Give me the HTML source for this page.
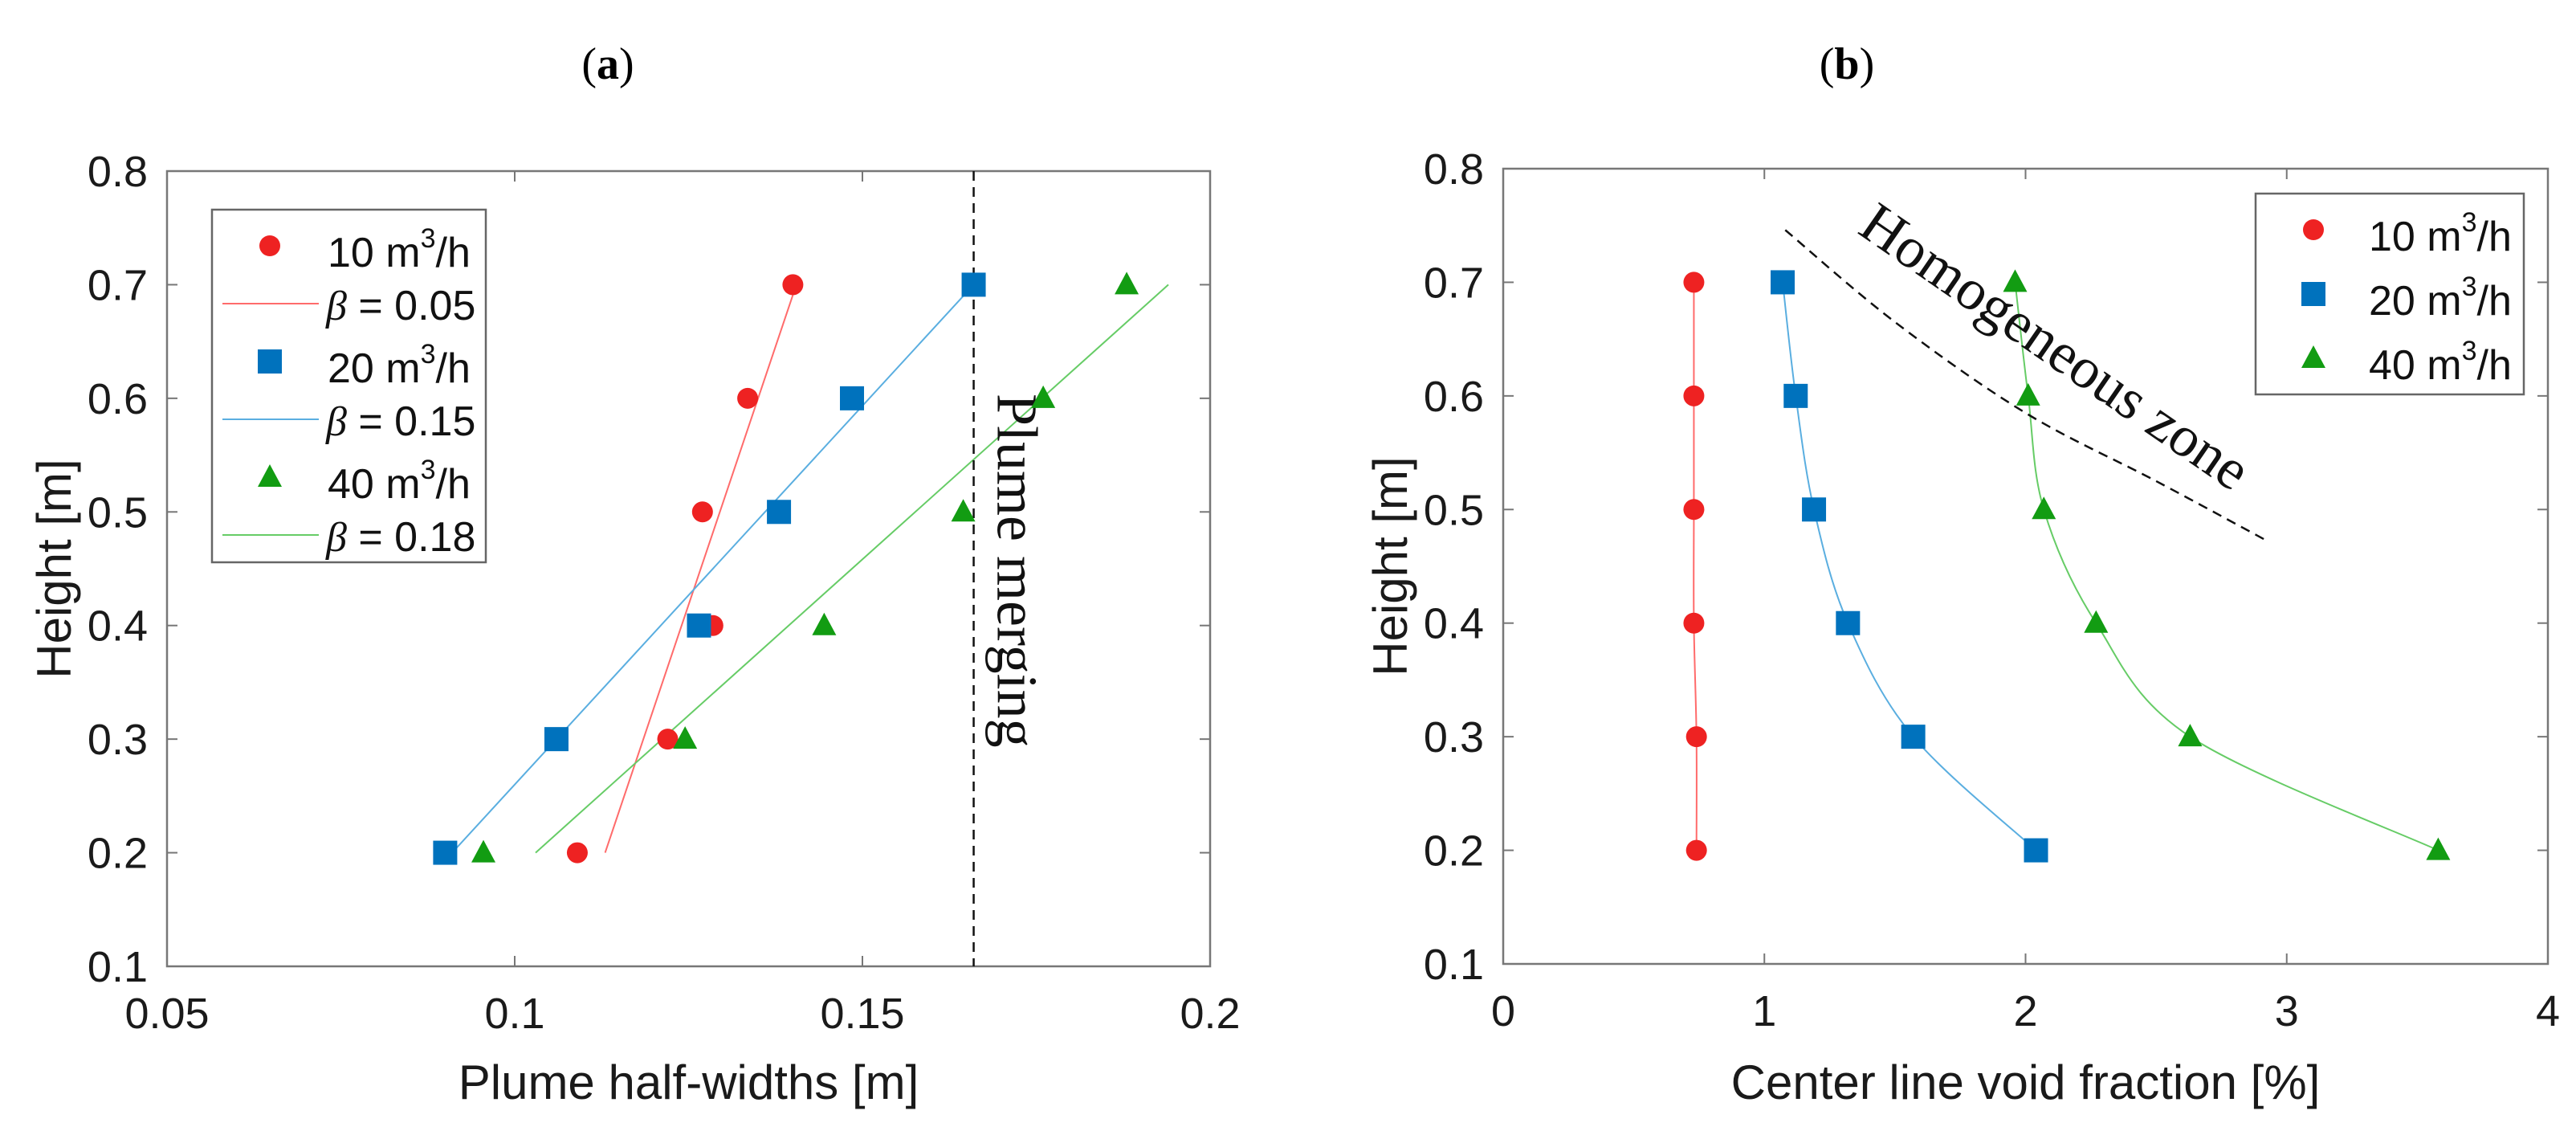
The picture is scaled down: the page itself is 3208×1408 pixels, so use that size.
<!DOCTYPE html>
<html><head><meta charset="utf-8"><style>
html,body{margin:0;padding:0;background:#fff;}
svg{display:block;}
</style></head><body>
<svg id="chart" width="3208" height="1408" viewBox="0 0 3208 1408" xmlns="http://www.w3.org/2000/svg" font-family="Liberation Sans, sans-serif">
<text x="757" y="98" font-family="Liberation Serif, serif" font-size="56" text-anchor="middle">(<tspan font-weight="bold">a</tspan>)</text>
<text x="2300" y="98" font-family="Liberation Serif, serif" font-size="56" text-anchor="middle">(<tspan font-weight="bold">b</tspan>)</text>
<g id="pa"></g>
<g id="pb"></g>
</svg>
<script>
// ---- Panel (a) data ----
const aHeights = [0.2, 0.3, 0.4, 0.5, 0.6, 0.7];
const a10 = [0.109, 0.122, 0.1285, 0.127, 0.1335, 0.140];
const a20 = [0.090, 0.106, 0.1265, 0.138, 0.1485, 0.166];
const a40 = [0.0955, 0.1245, 0.1445, 0.1645, 0.176, 0.188];
const aFit05 = [[0.113, 0.2], [0.1405, 0.7]];
const aFit15 = [[0.091, 0.2], [0.166, 0.7]];
const aFit18 = [[0.103, 0.2], [0.194, 0.7]];
const aMerge = 0.166;
const aXTicks = [0.05, 0.1, 0.15, 0.2];
const aXTickLabels = ['0.05', '0.1', '0.15', '0.2'];
const yTicks = [0.1, 0.2, 0.3, 0.4, 0.5, 0.6, 0.7, 0.8];
const yTickLabels = ['0.1', '0.2', '0.3', '0.4', '0.5', '0.6', '0.7', '0.8'];
// ---- Panel (b) data ----
const bHeights = [0.2, 0.3, 0.4, 0.5, 0.6, 0.7];
const b10 = [0.74, 0.74, 0.73, 0.73, 0.73, 0.73];
const b20 = [2.04, 1.57, 1.32, 1.19, 1.12, 1.07];
const b40 = [3.58, 2.63, 2.27, 2.07, 2.01, 1.96];
const bZoneX = [1.08, 1.5, 2.0, 2.5, 2.92];
const bZoneY = [0.746, 0.665, 0.585, 0.525, 0.473];
const bXTicks = [0, 1, 2, 3, 4];
const bXTickLabels = ['0', '1', '2', '3', '4'];

const NS = 'http://www.w3.org/2000/svg';
const RED = '#ee2222', BLUE = '#0072bd', GREEN = '#129c12';
const LRED = '#ff6b6b', LBLUE = '#5aaee0', LGREEN = '#66cc66';
function mk(parent, tag, attrs, text) {
  const e = document.createElementNS(NS, tag);
  for (const k in attrs) e.setAttribute(k, attrs[k]);
  if (text !== undefined) e.textContent = text;
  parent.appendChild(e);
  return e;
}
function axes(g, L, R, T, B, xmin, xmax, xt, xtl, xlabel, ytitleX) {
  const xS = v => L + (v - xmin) / (xmax - xmin) * (R - L);
  const yS = v => B + (v - 0.1) / 0.7 * (T - B);
  const box = mk(g, 'rect', {x: L, y: T, width: R - L, height: B - T, fill: 'none', stroke: '#777', 'stroke-width': 2.5});
  
  
  xt.forEach((v, i) => {
    const x = xS(v);
    mk(g, 'line', {x1: x, y1: B, x2: x, y2: B - 13, stroke: '#777', 'stroke-width': 2});
    mk(g, 'line', {x1: x, y1: T, x2: x, y2: T + 13, stroke: '#777', 'stroke-width': 2});
    const t = mk(g, 'text', {x: x, y: B + 77, 'font-size': 54, 'text-anchor': 'middle', fill: '#1a1a1a'}, xtl[i]);
    
    
  });
  yTicks.forEach((v, i) => {
    const y = yS(v);
    mk(g, 'line', {x1: L, y1: y, x2: L + 13, y2: y, stroke: '#777', 'stroke-width': 2});
    mk(g, 'line', {x1: R, y1: y, x2: R - 13, y2: y, stroke: '#777', 'stroke-width': 2});
    const t = mk(g, 'text', {x: L - 24, y: y + 19, 'font-size': 54, 'text-anchor': 'end', fill: '#1a1a1a'}, yTickLabels[i]);
    
    
  });
  const xl = mk(g, 'text', {x: (L + R) / 2, y: 1368, 'font-size': 60, 'text-anchor': 'middle', fill: '#1a1a1a'}, xlabel);
  
  
  const yl = mk(g, 'text', {x: 0, y: 0, 'font-size': 60, 'text-anchor': 'middle', fill: '#1a1a1a', transform: `translate(${ytitleX},${(B + T) / 2}) rotate(-90)`}, 'Height [m]');
  
  
  return [xS, yS];
}
function marker(g, type, x, y, name) {
  let e;
  if (type === 'c') e = mk(g, 'circle', {cx: x, cy: y, r: 13, fill: RED});
  else if (type === 's') e = mk(g, 'rect', {x: x - 15, y: y - 15, width: 30, height: 30, fill: BLUE});
  else e = mk(g, 'polygon', {points: `${x},${y - 16} ${x - 15},${y + 12} ${x + 15},${y + 12}`, fill: GREEN});
  
  
}
function spline(pts) {
  let d = `M${pts[0][0]},${pts[0][1]}`;
  for (let i = 0; i < pts.length - 1; i++) {
    const p0 = pts[Math.max(0, i - 1)], p1 = pts[i], p2 = pts[i + 1], p3 = pts[Math.min(pts.length - 1, i + 2)];
    const c1 = [p1[0] + (p2[0] - p0[0]) / 6, p1[1] + (p2[1] - p0[1]) / 6];
    const c2 = [p2[0] - (p3[0] - p1[0]) / 6, p2[1] - (p3[1] - p1[1]) / 6];
    d += ` C${c1[0]},${c1[1]} ${c2[0]},${c2[1]} ${p2[0]},${p2[1]}`;
  }
  return d;
}
function legendText(ge, x, y, q) {
  const t = mk(ge, 'text', {x: x, y: y + 26, 'font-size': 52, fill: '#111'}, q + ' m');
  mk(t, 'tspan', {'font-size': 34, dy: -24}, '3');
  mk(t, 'tspan', {dy: 24}, '/h');
}

// ---- Panel (a) ----
const ga = document.getElementById('pa');
const [xa, ya] = axes(ga, 208, 1507, 213, 1203, 0.05, 0.2, aXTicks, aXTickLabels, 'Plume half-widths [m]', 88);
[[aFit05, LRED, 'fit-line-beta-005'], [aFit15, LBLUE, 'fit-line-beta-015'], [aFit18, LGREEN, 'fit-line-beta-018']].forEach(([f, c, n]) => {
  const l = mk(ga, 'line', {x1: xa(f[0][0]), y1: ya(f[0][1]), x2: xa(f[1][0]), y2: ya(f[1][1]), stroke: c, 'stroke-width': 2});
  
  
});
const mg = mk(ga, 'line', {x1: xa(aMerge), y1: 213, x2: xa(aMerge), y2: 1203, stroke: '#111', 'stroke-width': 2.5, 'stroke-dasharray': '12,8'});


const mt = mk(ga, 'text', {x: 0, y: 0, 'font-size': 72, 'font-family': 'Liberation Serif, serif', fill: '#111', transform: `translate(${xa(aMerge) + 30},490) rotate(90)`}, 'Plume merging');


aHeights.forEach((h, i) => {
  marker(ga, 'c', xa(a10[i]), ya(h), 'point-10');
  marker(ga, 's', xa(a20[i]), ya(h), 'point-20');
  marker(ga, 't', xa(a40[i]), ya(h), 'point-40');
});
const lga = mk(ga, 'g', {});


mk(lga, 'rect', {x: 264, y: 261, width: 341, height: 439, fill: '#fff', stroke: '#666', 'stroke-width': 2.5});
const legA = [['c', '10'], ['l', '0.05', LRED], ['s', '20'], ['l', '0.15', LBLUE], ['t', '40'], ['l', '0.18', LGREEN]];
legA.forEach((e, i) => {
  const y = 306 + i * 72;
  const ge = mk(lga, 'g', {});
  
  
  if (e[0] === 'l') {
    mk(ge, 'line', {x1: 277, y1: y, x2: 397, y2: y, stroke: e[2], 'stroke-width': 2});
    const t = mk(ge, 'text', {x: 406, y: y + 20, 'font-size': 52, fill: '#111'});
    mk(t, 'tspan', {'font-family': 'Liberation Serif, serif', 'font-style': 'italic'}, 'β');
    mk(t, 'tspan', {}, ' = ' + e[1]);
  } else {
    marker(ge, e[0], 336, y, 'legend-marker');
    legendText(ge, 408, y, e[1]);
  }
});

// ---- Panel (b) ----
const gb = document.getElementById('pb');
const [xb, yb] = axes(gb, 1872, 3173, 210, 1200, 0, 4, bXTicks, bXTickLabels, 'Center line void fraction [%]', 1752);
[[b10, LRED, 'curve-10'], [b20, LBLUE, 'curve-20'], [b40, LGREEN, 'curve-40']].forEach(([s, c, n]) => {
  const pts = bHeights.map((h, i) => [xb(s[i]), yb(h)]);
  const p = mk(gb, 'path', {d: spline(pts), fill: 'none', stroke: c, 'stroke-width': 2});
  
  
});
const zp = mk(gb, 'path', {d: spline(bZoneX.map((x, i) => [xb(x), yb(bZoneY[i])])), fill: 'none', stroke: '#111', 'stroke-width': 2.5, 'stroke-dasharray': '12,8'});


const zt = mk(gb, 'text', {x: 0, y: 0, 'font-size': 72, 'font-family': 'Liberation Serif, serif', 'text-anchor': 'middle', fill: '#111', transform: `translate(2546,451) rotate(34.6)`}, 'Homogeneous zone');


bHeights.forEach((h, i) => {
  marker(gb, 'c', xb(b10[i]), yb(h), 'point-10');
  marker(gb, 's', xb(b20[i]), yb(h), 'point-20');
  marker(gb, 't', xb(b40[i]), yb(h), 'point-40');
});
const lgb = mk(gb, 'g', {});


mk(lgb, 'rect', {x: 2809, y: 241, width: 334, height: 250, fill: '#fff', stroke: '#666', 'stroke-width': 2.5});
[['c', '10'], ['s', '20'], ['t', '40']].forEach((e, i) => {
  const y = 286 + i * 80;
  const ge = mk(lgb, 'g', {});
  
  
  marker(ge, e[0], 2881, y, 'legend-marker');
  legendText(ge, 2950, y, e[1]);
});
</script>
</body></html>
